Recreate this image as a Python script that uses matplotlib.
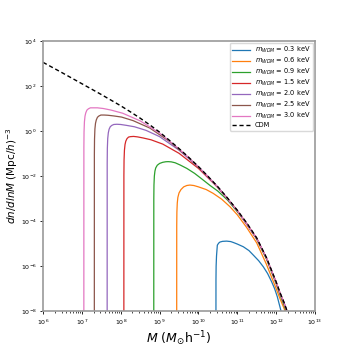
import numpy as np
import matplotlib
matplotlib.use("Agg")
import matplotlib.pyplot as plt
from matplotlib.ticker import NullLocator

# log10(M) and log10(dn/dlnM)
cdm_logm = [6.0, 6.5, 7.0, 7.25, 7.5, 7.75, 8.0, 8.25, 8.5, 8.75, 9.0, 9.25, 9.5, 9.75,
            10.0, 10.25, 10.5, 10.75, 11.0, 11.25, 11.5, 11.75, 12.0, 12.1, 12.2, 12.3, 12.4]
cdm_logn = [3.05, 2.58, 2.10, 1.86, 1.62, 1.37, 1.12, 0.85, 0.57, 0.27, -0.05, -0.41, -0.78, -1.17,
            -1.58, -2.02, -2.48, -2.98, -3.52, -4.10, -4.75, -5.62, -6.70, -7.18, -7.60, -8.08, -8.6]

m03_logm = [10.45, 10.451, 10.455, 10.465, 10.486, 10.52, 10.555, 10.62, 10.727, 10.83, 10.897, 11.0,
            11.155, 11.3, 11.412, 11.55, 11.67, 11.78, 11.885, 11.96, 12.03, 12.12, 12.2]
m03_logn = [-9, -6.6, -6.0, -5.55, -5.07, -4.98, -4.93, -4.90, -4.89, -4.91, -4.95, -5.02,
            -5.14, -5.31, -5.51, -5.76, -6.03, -6.33, -6.70, -7.0, -7.36, -7.96, -8.45]

m06_logm = [9.44, 9.441, 9.445, 9.455, 9.47, 9.50, 9.55, 9.62, 9.70, 9.78, 9.88, 10.0, 10.2, 10.38,
            10.6, 10.81, 11.0, 11.24, 11.5, 11.75, 12.0, 12.1, 12.2, 12.3]
m06_logn = [-9, -4.2, -3.6, -3.2, -2.95, -2.75, -2.6, -2.48, -2.42, -2.40, -2.42, -2.48, -2.6, -2.77,
            -3.03, -3.36, -3.72, -4.28, -4.97, -5.92, -7.0, -7.45, -7.86, -8.35]

m09_logm = [8.85, 8.851, 8.855, 8.865, 8.88, 8.90, 8.94, 9.00, 9.08, 9.16, 9.22, 9.30, 9.40, 9.53,
            9.70, 9.90, 10.08, 10.3, 10.5, 10.75, 11.0, 11.25, 11.5, 11.75, 12.0, 12.1, 12.2, 12.3]
m09_logn = [-9, -3.0, -2.4, -2.0, -1.78, -1.64, -1.52, -1.44, -1.39, -1.365, -1.36, -1.37, -1.41, -1.51,
            -1.66, -1.88, -2.12, -2.42, -2.67, -3.07, -3.58, -4.15, -4.80, -5.68, -6.78, -7.28, -7.72, -8.22]

m15_logm = [8.08, 8.081, 8.085, 8.095, 8.11, 8.13, 8.16, 8.20, 8.25, 8.33, 8.43, 8.58, 8.78, 9.08,
            9.5, 10.0, 10.5, 11.0, 11.5, 11.75, 12.0, 12.1, 12.2, 12.3, 12.4]
m15_logn = [-9, -1.97, -1.29, -0.85, -0.60, -0.45, -0.34, -0.27, -0.25, -0.24, -0.26, -0.31, -0.39, -0.58,
            -0.99, -1.66, -2.51, -3.53, -4.78, -5.65, -6.74, -7.22, -7.65, -8.14, -8.68]

m20_logm = [7.65, 7.651, 7.655, 7.665, 7.68, 7.70, 7.73, 7.77, 7.82, 7.90, 8.00, 8.15, 8.35, 8.65,
            9.0, 9.5, 10.0, 10.5, 11.0, 11.5, 11.75, 12.0, 12.1, 12.2, 12.3, 12.4]
m20_logn = [-9, -1.45, -0.77, -0.33, -0.08, 0.08, 0.19, 0.25, 0.29, 0.30, 0.29, 0.25, 0.19, 0.03,
            -0.25, -0.85, -1.60, -2.49, -3.54, -4.78, -5.64, -6.73, -7.21, -7.63, -8.12, -8.66]

m25_logm = [7.32, 7.321, 7.325, 7.335, 7.35, 7.37, 7.40, 7.44, 7.49, 7.57, 7.67, 7.82, 8.02, 8.32,
            8.75, 9.25, 9.75, 10.25, 10.75, 11.25, 11.5, 11.75, 12.0, 12.1, 12.2, 12.3, 12.4]
m25_logn = [-9, -1.04, -0.36, 0.09, 0.34, 0.49, 0.61, 0.67, 0.71, 0.71, 0.70, 0.67, 0.62, 0.46,
            0.13, -0.46, -1.19, -2.03, -2.99, -4.12, -4.77, -5.64, -6.72, -7.20, -7.62, -8.11, -8.65]

m30_logm = [7.05, 7.051, 7.055, 7.065, 7.08, 7.10, 7.13, 7.17, 7.22, 7.30, 7.40, 7.55, 7.75, 8.05,
            8.5, 9.0, 9.5, 10.0, 10.5, 11.0, 11.5, 11.75, 12.0, 12.1, 12.2, 12.3, 12.4]
m30_logn = [-9, -0.72, -0.04, 0.41, 0.66, 0.81, 0.93, 0.99, 1.03, 1.03, 1.03, 1.00, 0.93, 0.79,
            0.45, -0.09, -0.79, -1.585, -2.49, -3.53, -4.76, -5.63, -6.71, -7.19, -7.61, -8.1, -8.62]

wdm_masses = ["0.3", "0.6", "0.9", "1.5", "2.0", "2.5", "3.0"]
wdm_curves = [(m03_logm, m03_logn), (m06_logm, m06_logn), (m09_logm, m09_logn),
              (m15_logm, m15_logn), (m20_logm, m20_logn), (m25_logm, m25_logn),
              (m30_logm, m30_logn)]

fig = plt.figure(figsize=(3.5, 3.5), dpi=100)
ax = fig.add_axes([0.123, 0.111, 0.777, 0.772])

for i, (lm, ln) in enumerate(wdm_curves):
    ax.plot(10 ** np.array(lm), 10 ** np.array(ln), color="C%d" % i, lw=0.9,
            label=r"$m_{WDM}$ = %s keV" % wdm_masses[i])
ax.plot(10 ** np.array(cdm_logm), 10 ** np.array(cdm_logn), "k--", lw=1.0, dashes=(3, 2), label="CDM")

ax.set_xscale("log"); ax.set_yscale("log")
ax.set_xlim(1e6, 1e13)
ax.set_ylim(1e-8, 1e4)
ax.set_yticks([10.0 ** k for k in range(-8, 5, 2)])
ax.yaxis.set_minor_locator(NullLocator())
ax.tick_params(which="major", labelsize=4.5, length=2.5, width=0.6, pad=2)
ax.tick_params(which="minor", length=1.5, width=0.5)
for s in ax.spines.values():
    s.set_color("0.6")
    s.set_linewidth(1.2)

ax.set_xlabel(r"$M$ ($M_{\odot}$h$^{-1}$)", fontsize=9, labelpad=2)
ax.set_ylabel(r"$dn/dlnM$ (Mpc/$h$)$^{-3}$", fontsize=7.5, labelpad=0.5)
ax.legend(loc="upper right", fontsize=4.8, handlelength=2.6, borderaxespad=0.3,
          labelspacing=0.12, borderpad=0.35, framealpha=1, edgecolor="0.85")

fig.savefig("out.png", dpi=100)
